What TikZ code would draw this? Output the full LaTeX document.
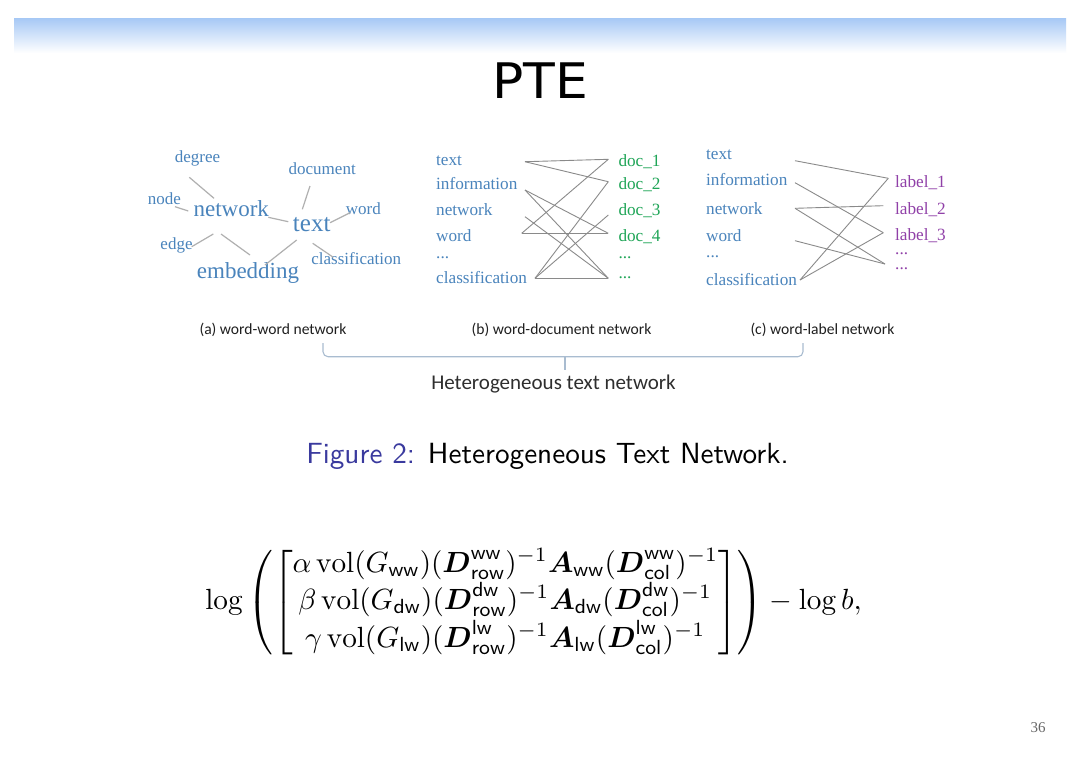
\documentclass[tikz,border=0pt]{standalone}
\usepackage{fontspec}
\usepackage{amsmath}
\usepackage{graphicx}
\newfontfamily\wordfont{Liberation Serif}
\newfontfamily\titlefont{DejaVu Sans}
\newfontfamily\capfont{Carlito}
\definecolor{bandblue}{HTML}{A6C8F5}
\definecolor{wordblue}{HTML}{4A84BC}
\definecolor{docgreen}{HTML}{1FA557}
\definecolor{labpurple}{HTML}{9040A8}
\definecolor{lgray}{HTML}{B0B0B0}
\definecolor{dgray}{HTML}{8A8A8A}
\definecolor{bracecol}{HTML}{A9BCD0}
\definecolor{figblue}{HTML}{3A3A9E}
\tikzset{
  wsmall/.style={font=\wordfont\fontsize{17}{17}\selectfont, text=wordblue, inner sep=0pt},
  wbig/.style={font=\wordfont\fontsize{23}{23}\selectfont, text=wordblue, inner sep=0pt},
  wleft/.style={font=\wordfont\fontsize{17.2}{17.2}\selectfont, text=wordblue, inner sep=0pt, anchor=west},
  wdoc/.style={font=\wordfont\fontsize{17.2}{17.2}\selectfont, text=docgreen, inner sep=0pt, anchor=west},
  wlab/.style={font=\wordfont\fontsize{17.2}{17.2}\selectfont, text=labpurple, inner sep=0pt, anchor=west},
  lnA/.style={draw=lgray, line width=1.2pt},
  lnB/.style={draw=dgray, line width=0.9pt},
  capt/.style={font=\capfont\fontsize{15.6}{15.6}\selectfont, text=black!88, inner sep=0pt},
}
\begin{document}
\begin{tikzpicture}[x=1pt,y=-1pt]
\useasboundingbox (0,0) rectangle (1080,764);
\fill[white] (0,0) rectangle (1080,764);
\shade[top color=bandblue, bottom color=white] (14,18) rectangle (1066,53);
\node[font=\titlefont\fontsize{49}{49}\selectfont, inner sep=0pt] (title) at (540,81) {\scalebox{1.06}[1]{PTE}};

% ---------- (a) word-word network ----------
\node[wsmall] (adeg) at (197.5,158.3) {degree};
\node[wsmall] (anode) at (164.5,198.3) {node};
\node[wbig] (anet) at (231.3,208.3) {network};
\node[font=\wordfont\fontsize{25}{25}\selectfont, text=wordblue, inner sep=0pt] (atext) at (311.7,225) {text};
\node[wsmall] (adoc) at (322.2,168.3) {document};
\node[wsmall] (aword) at (363.3,209) {word};
\node[wsmall] (aedge) at (176.5,245) {edge};
\node[wbig] (aemb) at (248,273.3) {embedding};
\node[wsmall] (acls) at (356.2,258.3) {classification};

\coordinate (a1s) at (189.3,177.3); \coordinate (a1e) at (214,198.3);
\coordinate (a2s) at (175,206.7);   \coordinate (a2e) at (188.3,211);
\coordinate (a3s) at (268.3,217.3); \coordinate (a3e) at (288.3,221.7);
\coordinate (a4s) at (310,186);     \coordinate (a4e) at (302.3,209.3);
\coordinate (a5s) at (350,212.7);   \coordinate (a5e) at (330,222.7);
\coordinate (a6s) at (191.7,246.7); \coordinate (a6e) at (213.3,234);
\coordinate (a7s) at (221,234);     \coordinate (a7e) at (250,255);
\coordinate (a8s) at (296.7,240);   \coordinate (a8e) at (265,265);
\coordinate (a9s) at (312.7,243.3); \coordinate (a9e) at (333.3,257.3);
\foreach \i in {1,...,9} {\draw[lnA] (a\i s) -- (a\i e);}

% ---------- (b) word-document network ----------
\node[wleft] (btext) at (436,160.7) {text};
\node[wleft] (binfo) at (436,183.3) {information};
\node[wleft] (bnet) at (436,210) {network};
\node[wleft] (bword) at (436,235.7) {word};
\node[wleft] (bdots) at (436,257.5) {...};
\node[wleft] (bcls) at (436,277.7) {classification};
\node[wdoc] (d1) at (618.3,161.7) {doc\_1};
\node[wdoc] (d2) at (618.3,185) {doc\_2};
\node[wdoc] (d3) at (618.3,211) {doc\_3};
\node[wdoc] (d4) at (618.3,236.7) {doc\_4};
\node[wdoc] (d5) at (618.3,257.5) {...};
\node[wdoc] (d6) at (618.3,277.3) {...};

\coordinate (bLt) at (525,161.7);
\coordinate (bLi) at (525,190);
\coordinate (bLn) at (525,216.7);
\coordinate (bLw) at (521.7,233.3);
\coordinate (bLc) at (535,278.3);
\coordinate (bR1) at (608.3,159.3);
\coordinate (bR2) at (608.3,181.7);
\coordinate (bR3) at (608.3,215);
\coordinate (bR4) at (608.3,233.3);
\coordinate (bR6) at (608.3,278.3);
\draw[lnB] (bLt) -- (bR1);
\draw[lnB] (bLt) -- (bR2);
\draw[lnB] (bLi) -- (bR4);
\draw[lnB] (bLi) -- (bR6);
\draw[lnB] (bLn) -- (bR6);
\draw[lnB] (bLw) -- (bR1);
\draw[lnB] (bLw) -- (bR4);
\draw[lnB] (bLc) -- (bR2);
\draw[lnB] (bLc) -- (bR3);
\draw[lnB] (bLc) -- (bR6);

% ---------- (c) word-label network ----------
\node[wleft] (ctext) at (706,155) {text};
\node[wleft] (cinfo) at (706,179.3) {information};
\node[wleft] (cnet) at (706,208.3) {network};
\node[wleft] (cword) at (706,235.7) {word};
\node[wleft] (cdots) at (706,256.5) {...};
\node[wleft] (ccls) at (706,280) {classification};
\node[wlab] (l1) at (895,182.7) {label\_1};
\node[wlab] (l2) at (895,209.3) {label\_2};
\node[wlab] (l3) at (895,236) {label\_3};
\node[wlab] (l4) at (895,254) {...};
\node[wlab] (l5) at (895,268.5) {...};

\coordinate (cLt) at (795,160.7);
\coordinate (cLi) at (795,182.7);
\coordinate (cLn) at (795,208.3);
\coordinate (cLw) at (795,240.7);
\coordinate (cLc) at (800,280);
\coordinate (cR1) at (888.3,178.3);
\coordinate (cR2) at (883.3,205.7);
\coordinate (cR3) at (883.3,232.7);
\coordinate (cR5) at (885,264);
\draw[lnB] (cLt) -- (cR1);
\draw[lnB] (cLi) -- (cR3);
\draw[lnB] (cLn) -- (cR2);
\draw[lnB] (cLn) -- (cR5);
\draw[lnB] (cLw) -- (cR5);
\draw[lnB] (cLc) -- (cR1);
\draw[lnB] (cLc) -- (cR3);

% ---------- captions and brace ----------
\node[capt] (capa) at (273,330) {(a) word-word network};
\node[capt] (capb) at (561.5,330) {(b) word-document network};
\node[capt] (capc) at (822.5,330) {(c) word-label network};
\coordinate (brL) at (323,343);
\coordinate (brR) at (803,343);
\coordinate (brM) at (565,356.7);
\coordinate (brT) at (565,370);
\draw[bracecol, line width=1.1pt, rounded corners=5pt] (brL) |- (brM) -| (brR);
\draw[bracecol, line width=1.1pt] (brM) -- (brT);
\node[font=\capfont\fontsize{21}{21}\selectfont, text=black!82, inner sep=0pt] (het) at (553.5,384) {Heterogeneous text network};

% ---------- figure caption ----------
\node[inner sep=0pt] (fig) at (547.5,456.5) {\scalebox{2.92}{\sffamily\fontsize{10}{12}\selectfont\textcolor{figblue}{Figure 2:} Heterogeneous Text Network.}};

% ---------- equation ----------
\node[inner sep=0pt] (eq) at (533.5,602.5) {\scalebox{2.92}{$\displaystyle
\log\left(\begin{bmatrix}
\alpha\operatorname{vol}(G_{\mathsf{ww}})(\boldsymbol{D}^{\mathsf{ww}}_{\mathsf{row}})^{-1}\boldsymbol{A}_{\mathsf{ww}}(\boldsymbol{D}^{\mathsf{ww}}_{\mathsf{col}})^{-1}\\
\beta\operatorname{vol}(G_{\mathsf{dw}})(\boldsymbol{D}^{\mathsf{dw}}_{\mathsf{row}})^{-1}\boldsymbol{A}_{\mathsf{dw}}(\boldsymbol{D}^{\mathsf{dw}}_{\mathsf{col}})^{-1}\\
\gamma\operatorname{vol}(G_{\mathsf{lw}})(\boldsymbol{D}^{\mathsf{lw}}_{\mathsf{row}})^{-1}\boldsymbol{A}_{\mathsf{lw}}(\boldsymbol{D}^{\mathsf{lw}}_{\mathsf{col}})^{-1}
\end{bmatrix}\right)-\log b,$}};

% ---------- page number ----------
\node[font=\wordfont\fontsize{15}{15}\selectfont, text=black!60, inner sep=0pt] (pnum) at (1038,728) {36};
\end{tikzpicture}
\end{document}
